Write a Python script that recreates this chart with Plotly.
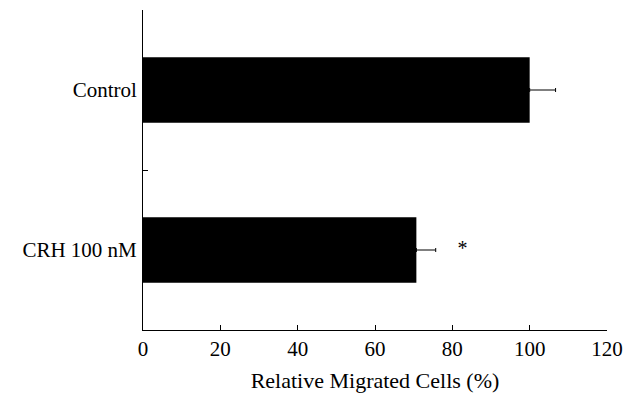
import plotly.graph_objects as go

categories = ["Control", "CRH 100 nM"]
values = [100.0, 70.7]
errors = [6.7, 5.0]
sig_labels = ["", "*"]
sig_x = [82.6, 82.6]
x_ticks = [0, 20, 40, 60, 80, 100, 120]

FONT = "Liberation Serif, Times New Roman, serif"

fig = go.Figure()
fig.add_trace(go.Bar(
    y=categories, x=values, orientation="h",
    marker=dict(color="black", line=dict(width=0)),
    width=0.41,
    error_x=dict(type="data", array=errors, arrayminus=[0, 0], symmetric=False,
                 color="black", thickness=1, width=2),
    showlegend=False,
))
fig.add_trace(go.Scatter(
    y=[categories[i] for i in range(len(categories)) if sig_labels[i]],
    x=[sig_x[i] for i in range(len(categories)) if sig_labels[i]],
    text=[s for s in sig_labels if s],
    mode="text", textfont=dict(family=FONT, size=20, color="black"),
    textposition="middle center", showlegend=False,
))
# invisible helper trace for the category boundary tick
fig.add_trace(go.Scatter(x=[None], y=[None], yaxis="y2", showlegend=False))

fig.update_layout(
    width=630, height=398,
    margin=dict(l=143, r=23, t=10, b=68),
    paper_bgcolor="white", plot_bgcolor="white",
    font=dict(family=FONT, size=21, color="black"),
    xaxis=dict(
        range=[0, 120], tickvals=x_ticks, ticks="inside", ticklen=5,
        tickcolor="black", showline=True, linecolor="black", linewidth=1,
        showgrid=False, zeroline=False, automargin=False,
        tickfont=dict(size=21),
        title=dict(text="Relative Migrated Cells (%)", font=dict(size=22), standoff=12),
    ),
    yaxis=dict(
        type="category", categoryarray=categories, range=[1.5, -0.5],
        ticks="", showline=True, linecolor="black", linewidth=1,
        showgrid=False, zeroline=False, ticklabelstandoff=1, automargin=False,
        tickfont=dict(size=21),
    ),
    yaxis2=dict(
        overlaying="y", range=[1.5, -0.5], tickvals=[0.5], ticks="inside",
        ticklen=5, tickcolor="black", showticklabels=False, showgrid=False,
        zeroline=False, showline=False, side="left", automargin=False,
    ),
)
fig.write_html("out.html", config={"displayModeBar": False},
               post_script="document.body.style.margin='0';document.body.style.padding='0';")
